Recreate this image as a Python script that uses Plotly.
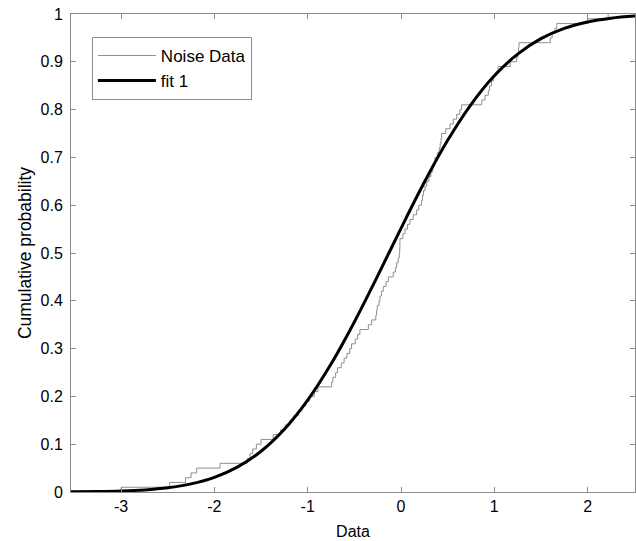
import plotly.graph_objects as go

# Sorted noise data (read from the empirical CDF staircase)
noise_sorted = [
    -3.00, -2.48, -2.31, -2.25, -2.19, -1.94, -1.65, -1.62, -1.59, -1.55,
    -1.50, -1.37, -1.29, -1.24, -1.19, -1.15, -1.10, -1.06, -1.02, -0.98,
    -0.93, -0.89, -0.743, -0.73, -0.70, -0.68, -0.64, -0.61, -0.58, -0.55,
    -0.53, -0.49, -0.465, -0.44, -0.35, -0.314, -0.27, -0.262, -0.255, -0.235,
    -0.225, -0.21, -0.19, -0.16, -0.136, -0.083, -0.06, -0.046, -0.03, -0.018,
    -0.014, -0.012, -0.011, 0.02, 0.043, 0.07, 0.096, 0.13, 0.168, 0.19,
    0.22, 0.23, 0.24, 0.257, 0.275, 0.30, 0.32, 0.34, 0.355, 0.364,
    0.39, 0.41, 0.42, 0.43, 0.436, 0.48, 0.525, 0.56, 0.597, 0.63,
    0.65, 0.865, 0.90, 0.936, 0.95, 0.97, 0.99, 1.02, 1.04, 1.17,
    1.24, 1.255, 1.26, 1.265, 1.60, 1.62, 1.65, 1.67, 2.00, 2.22,
]

# Fitted CDF curve
fit_x = [-3.54, -3.25, -3.0, -2.75, -2.5, -2.25, -2.0, -1.75, -1.5, -1.25,
         -1.0, -0.75, -0.5, -0.25, 0.0, 0.25, 0.5, 0.75, 1.0, 1.25,
         1.5, 1.75, 2.0, 2.25, 2.51]
fit_y = [0.0003, 0.0009, 0.0021, 0.0044, 0.0089, 0.017, 0.0307, 0.0526, 0.0853, 0.1314,
         0.1922, 0.2676, 0.3557, 0.4522, 0.5517, 0.648, 0.7357, 0.8106, 0.8708, 0.9162,
         0.9484, 0.9699, 0.9834, 0.9913, 0.9958]

x_ticks = [-3, -2, -1, 0, 1, 2]
y_ticks = [0, 0.1, 0.2, 0.3, 0.4, 0.5, 0.6, 0.7, 0.8, 0.9, 1]
y_tick_text = ["0", "0.1", "0.2", "0.3", "0.4", "0.5", "0.6", "0.7", "0.8", "0.9", "1"]

n = len(noise_sorted)
ecdf_x = [noise_sorted[0]] + noise_sorted
ecdf_y = [0.0] + [(i + 1) / n for i in range(n)]

FONT = "Liberation Sans, Arial, sans-serif"
AXC = "#8c8c8c"

fig = go.Figure()
fig.add_trace(go.Scatter(
    x=ecdf_x, y=ecdf_y, mode="lines", line=dict(color="#8f8f8f", width=1, shape="hv"),
    name="Noise Data", legendgroup="a"))
fig.add_trace(go.Scatter(
    x=fit_x, y=fit_y, mode="lines", line=dict(color="black", width=3, shape="spline"),
    name="fit 1", legendgroup="b"))

fig.update_layout(
    width=636, height=541,
    margin=dict(l=71, r=1, t=14, b=49),
    paper_bgcolor="white", plot_bgcolor="white",
    font=dict(family=FONT, size=16, color="black"),
    showlegend=True,
    legend=dict(x=0.037, y=0.952, xanchor="left", yanchor="top",
                bgcolor="white", bordercolor=AXC, borderwidth=1,
                font=dict(size=17, family=FONT, color="black"),
                itemwidth=58, tracegroupgap=0),
)
fig.update_xaxes(
    range=[-3.537, 2.508], tickvals=x_ticks, ticktext=[str(v) for v in x_ticks],
    ticks="inside", ticklen=5, tickcolor=AXC, showline=True, linecolor=AXC, linewidth=1,
    mirror="ticks", showgrid=False, zeroline=False,
    title=dict(text="Data", standoff=11, font=dict(size=16)),
)
fig.update_yaxes(
    range=[0, 1], tickvals=y_ticks, ticktext=y_tick_text,
    ticks="inside", ticklen=5, tickcolor=AXC, showline=True, linecolor=AXC, linewidth=1,
    mirror="ticks", showgrid=False, zeroline=False, ticklabelstandoff=4,
    title=dict(text="Cumulative probability", standoff=4, font=dict(size=17.5)),
)

fig.write_html("out.html")
